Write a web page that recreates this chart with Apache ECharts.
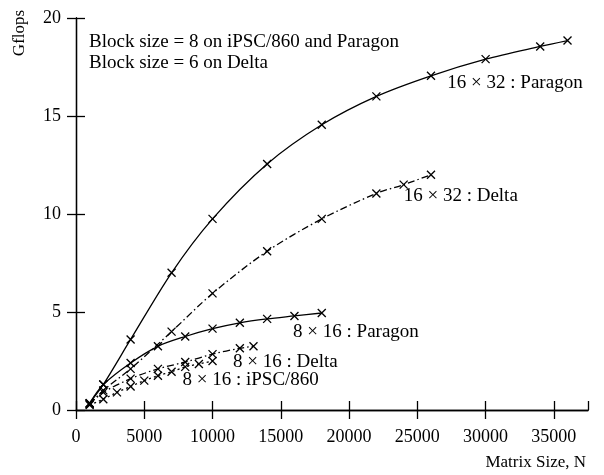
<!DOCTYPE html>
<html>
<head>
<meta charset="utf-8">
<script src="https://cdn.jsdelivr.net/npm/echarts@6/dist/echarts.min.js"></script>
<style>
  html, body { margin: 0; padding: 0; background: #fff; }
  #chart { width: 604px; height: 475px; }
</style>
</head>
<body>
<div id="chart"></div>
<script>
// values: [N, Gflops]
const paragon16x32 = [[1000, 0.35], [2000, 1.3], [4000, 3.6], [7000, 7.0], [10000, 9.75], [14000, 12.55], [18000, 14.55], [22000, 16.0], [26000, 17.05], [30000, 17.9], [34000, 18.55], [36000, 18.85]]
const delta16x32 = [[1000, 0.3], [2000, 1.0], [4000, 2.1], [7000, 4.0], [10000, 5.95], [14000, 8.1], [18000, 9.75], [22000, 11.05], [24000, 11.5], [26000, 12.0]]
const paragon8x16 = [[1000, 0.35], [2000, 1.3], [4000, 2.4], [6000, 3.25], [8000, 3.75], [10000, 4.15], [12000, 4.45], [14000, 4.65], [16000, 4.8], [18000, 4.95]]
const delta8x16 = [[1000, 0.3], [2000, 0.9], [4000, 1.6], [6000, 2.1], [8000, 2.45], [10000, 2.85], [12000, 3.15], [13000, 3.25]]
const ipsc8x16 = [[1000, 0.25], [2000, 0.55], [3000, 0.9], [4000, 1.2], [5000, 1.5], [6000, 1.75], [7000, 1.95], [8000, 2.2], [9000, 2.35], [10000, 2.5]]

// curve labels: [text, N, Gflops] (left end of the text)
const curveLabels = [
  ['16 × 32 : Paragon', 27200, 16.7],
  ['16 × 32 : Delta', 24000, 10.9],
  ['8 × 16 : Paragon', 15900, 3.98],
  ['8 × 16 : Delta', 11500, 2.45],
  ['8 × 16 : iPSC/860', 7800, 1.53]
]
const noteLines = ['Block size = 8 on iPSC/860 and Paragon', 'Block size = 6 on Delta']

const font = 'Liberation Serif'
const crossSymbol = 'path://M0,0L10,10M10,0L0,10'

function makeSeries(name, data, lineType) {
  return {
    name: name,
    type: 'line',
    data: data,
    smooth: 0.3,
    symbol: crossSymbol,
    symbolSize: 8,
    showSymbol: true,
    itemStyle: { color: 'rgba(0,0,0,0)', borderColor: '#000', borderWidth: 1.3 },
    lineStyle: { color: '#000', width: 1.3, type: lineType },
    emphasis: { disabled: true },
    animation: false
  }
}

const chart = echarts.init(document.getElementById('chart'), null, { renderer: 'canvas' })
const axisLine = { show: true, lineStyle: { color: '#000', width: 1.3 } }
const axisTick = { show: true, inside: false, length: 9, lineStyle: { color: '#000', width: 1.3 } }

chart.setOption({
  backgroundColor: '#fff',
  animation: false,
  grid: { left: 76, right: 16, top: 18, bottom: 65 },
  xAxis: [
    {
      type: 'value', min: 0, max: 37500, interval: 5000, position: 'bottom',
      axisLine: axisLine, axisTick: axisTick, splitLine: { show: false },
      axisLabel: {
        color: '#000', fontFamily: font, fontSize: 18, margin: 18,
        showMaxLabel: false, formatter: v => String(v)
      }
    },
    {
      type: 'value', min: 0, max: 37500, interval: 5000, position: 'top',
      axisLine: axisLine, axisTick: axisTick, splitLine: { show: false },
      axisLabel: { show: false }
    }
  ],
  yAxis: [
    {
      type: 'value', min: 0, max: 20, interval: 5, position: 'left',
      axisLine: axisLine, axisTick: axisTick, splitLine: { show: false },
      axisLabel: { color: '#000', fontFamily: font, fontSize: 18, margin: 15 }
    },
    {
      type: 'value', min: 0, max: 20, interval: 5, position: 'right',
      axisLine: axisLine, axisTick: axisTick, splitLine: { show: false },
      axisLabel: { show: false }
    }
  ],
  series: [
    makeSeries('16x32 Paragon', paragon16x32, 'solid'),
    makeSeries('16x32 Delta', delta16x32, [7, 3, 1.5, 3]),
    makeSeries('8x16 Paragon', paragon8x16, 'solid'),
    makeSeries('8x16 Delta', delta8x16, [7, 3, 1.5, 3]),
    makeSeries('8x16 iPSC/860', ipsc8x16, [2, 3])
  ]
})

// text placed at data coordinates through the axes
const texts = curveLabels.map(([t, n, g]) => {
  const p = chart.convertToPixel({ gridIndex: 0 }, [n, g])
  return {
    type: 'text', x: p[0], y: p[1],
    style: { text: t, font: '19px "' + font + '"', fill: '#000', align: 'left', verticalAlign: 'middle' }
  }
})
const corner = chart.convertToPixel({ gridIndex: 0 }, [0, 20])
noteLines.forEach((t, i) => {
  texts.push({
    type: 'text', x: corner[0] + 13, y: corner[1] + 24 + i * 21,
    style: { text: t, font: '19px "' + font + '"', fill: '#000', align: 'left', verticalAlign: 'middle' }
  })
})
texts.push({
  type: 'text', x: 586, y: 463,
  style: { text: 'Matrix Size, N', font: '17px "' + font + '"', fill: '#000', align: 'right', verticalAlign: 'middle' }
})
texts.push({
  type: 'text', x: 20, y: 33, rotation: Math.PI / 2,
  style: { text: 'Gflops', font: '17px "' + font + '"', fill: '#000', align: 'center', verticalAlign: 'middle' }
})
chart.setOption({ graphic: texts })
</script>
</body>
</html>
